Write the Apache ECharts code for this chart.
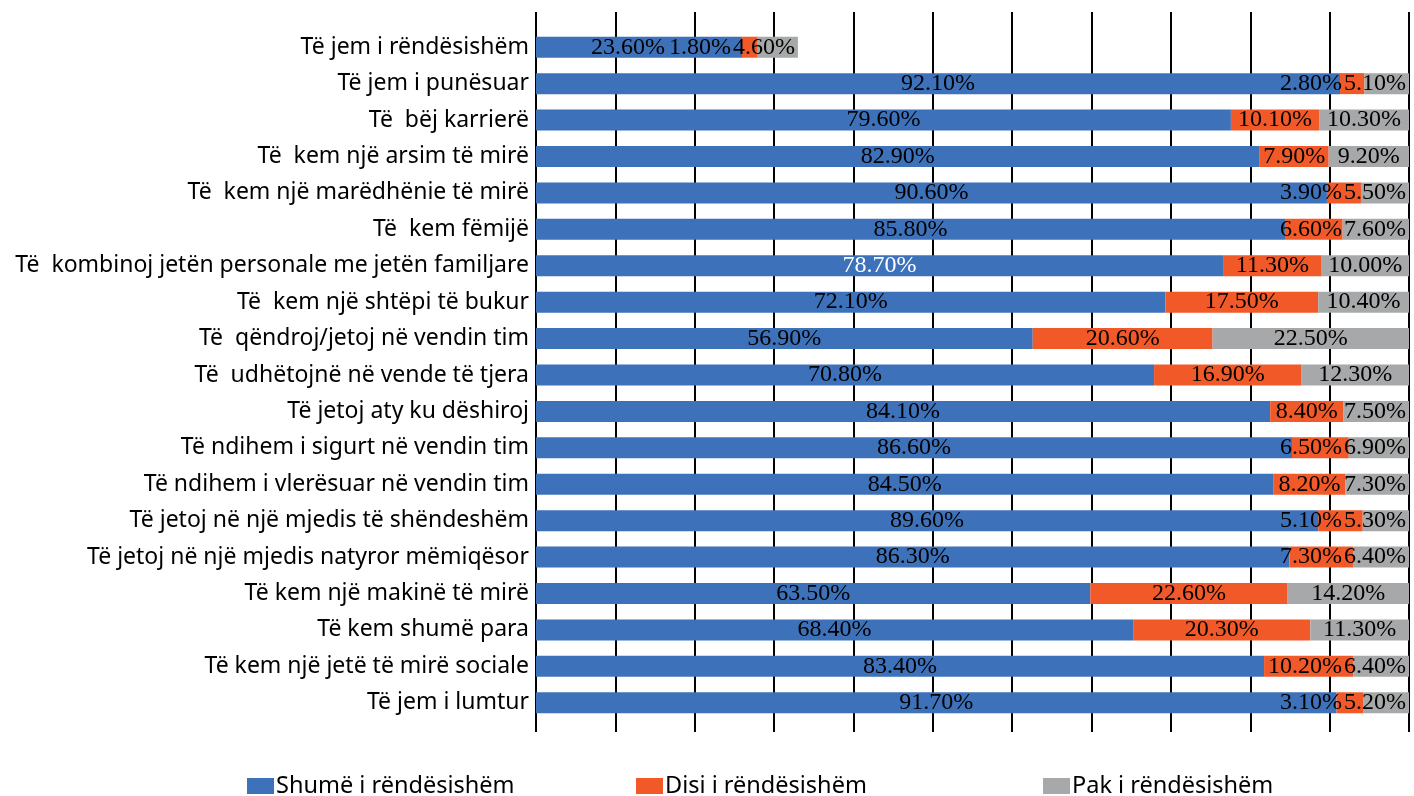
<!DOCTYPE html>
<html>
<head>
<meta charset="utf-8">
<script src="https://cdn.jsdelivr.net/npm/echarts@6/dist/echarts.min.js"></script>
<style>
  html, body { margin: 0; padding: 0; background: #ffffff; }
  #chart { width: 1414px; height: 796px; }
</style>
</head>
<body>
<div id="chart"></div>
<script>
// Survey items, listed top to bottom
const categories = [
  'Të jem i rëndësishëm',
  'Të jem i punësuar',
  'Të  bëj karrierë',
  'Të  kem një arsim të mirë',
  'Të  kem një marëdhënie të mirë',
  'Të  kem fëmijë',
  'Të  kombinoj jetën personale me jetën familjare',
  'Të  kem një shtëpi të bukur',
  'Të  qëndroj/jetoj në vendin tim',
  'Të  udhëtojnë në vende të tjera',
  'Të jetoj aty ku dëshiroj',
  'Të ndihem i sigurt në vendin tim',
  'Të ndihem i vlerësuar në vendin tim',
  'Të jetoj në një mjedis të shëndeshëm',
  'Të jetoj në një mjedis natyror mëmiqësor',
  'Të kem një makinë të mirë',
  'Të kem shumë para',
  'Të kem një jetë të mirë sociale',
  'Të jem i lumtur'
];

// Shares in percent
const shumeValues = [23.6, 92.1, 79.6, 82.9, 90.6, 85.8, 78.7, 72.1, 56.9, 70.8, 84.1, 86.6, 84.5, 89.6, 86.3, 63.5, 68.4, 83.4, 91.7];
const disiValues  = [1.8, 2.8, 10.1, 7.9, 3.9, 6.6, 11.3, 17.5, 20.6, 16.9, 8.4, 6.5, 8.2, 5.1, 7.3, 22.6, 20.3, 10.2, 3.1];
const pakValues   = [4.6, 5.1, 10.3, 9.2, 5.5, 7.6, 10.0, 10.4, 22.5, 12.3, 7.5, 6.9, 7.3, 5.3, 6.4, 14.2, 11.3, 6.4, 5.2];

const seriesNames = ['Shumë i rëndësishëm', 'Disi i rëndësishëm', 'Pak i rëndësishëm'];
const colors = ['#3D72BB', '#F15A28', '#A6A8A9'];
const seriesValues = [shumeValues, disiValues, pakValues];

const AXIS_MAX = 100;
const STEP = AXIS_MAX / 11;

const LABEL_FONT = '"Liberation Serif", "DejaVu Serif", serif';
const LABEL_SIZE = 24;
const fmt = v => v.toFixed(2) + '%';

// text width helper, used to keep neighbouring value labels apart
const measureCtx = document.createElement('canvas').getContext('2d');
function textWidth(str) {
  measureCtx.font = LABEL_SIZE + 'px ' + LABEL_FONT;
  return measureCtx.measureText(str).width;
}

const valueLabel = {
  show: true,
  position: 'inside',
  color: '#000000',
  fontFamily: LABEL_FONT,
  fontSize: LABEL_SIZE,
  formatter: p => fmt(p.value)
};

// Work out where the three value labels of one row go, starting from the
// rect of any of its segments (the scale comes from that rect).
function rowLabelPlan(seriesIndex, i, r) {
  const unit = r.width / seriesValues[seriesIndex][i];
  let before = 0;
  for (let k = 0; k < seriesIndex; k++) before += seriesValues[k][i];
  const x0 = r.x - before * unit;
  const blueEnd = x0 + shumeValues[i] * unit;
  const orangeEnd = blueEnd + disiValues[i] * unit;
  const greyEnd = orangeEnd + pakValues[i] * unit;

  const glw = textWidth(fmt(pakValues[i]));
  const greyFits = glw + 6 <= greyEnd - orangeEnd;
  const greyLeft = greyFits ? (orangeEnd + greyEnd) / 2 - glw / 2 : greyEnd - 3 - glw;

  const olw = textWidth(fmt(disiValues[i]));
  const orangeRight = Math.min((blueEnd + orangeEnd) / 2 + olw / 2, greyLeft - 2);
  const orangeLeft = orangeRight - olw;

  const blw = textWidth(fmt(shumeValues[i]));
  const blueRight = Math.min((x0 + blueEnd) / 2 + blw / 2, orangeLeft - 4);

  return { blueRight, orangeRight, greyRight: greyLeft + glw };
}

function placeRight(p, right) {
  const r = p.rect;
  return { x: right, y: r.y + r.height / 2, align: 'right', verticalAlign: 'middle' };
}

function shumeLayout(p) {
  const plan = rowLabelPlan(0, p.dataIndex, p.rect);
  const r = p.rect, w = p.labelRect.width;
  if (r.x + r.width / 2 + w / 2 <= plan.blueRight + 0.5) return {};
  return placeRight(p, plan.blueRight);
}

function disiLayout(p) {
  const plan = rowLabelPlan(1, p.dataIndex, p.rect);
  const r = p.rect, w = p.labelRect.width;
  if (r.x + r.width / 2 + w / 2 <= plan.orangeRight + 0.5) return {};
  return placeRight(p, plan.orangeRight);
}

function pakLayout(p) {
  const plan = rowLabelPlan(2, p.dataIndex, p.rect);
  const r = p.rect, w = p.labelRect.width;
  if (r.x + r.width / 2 + w / 2 <= plan.greyRight + 0.5) return {};
  return placeRight(p, plan.greyRight);
}

function makeSeries(name, values, color, opts) {
  return {
    name: name,
    type: 'bar',
    stack: 'total',
    xAxisIndex: 0,
    yAxisIndex: 0,
    barWidth: 21,
    itemStyle: { color: color },
    label: valueLabel,
    labelLayout: opts.layout,
    data: values.map((v, i) => {
      const d = { value: v };
      if (opts.white && opts.white.indexOf(i) >= 0) {
        d.label = { color: '#ffffff' };
      }
      return d;
    })
  };
}

const legendBase = {
  orient: 'horizontal',
  top: 774,
  padding: 0,
  icon: 'rect',
  itemWidth: 27,
  itemHeight: 16,
  itemGap: 0,
  textStyle: {
    fontFamily: '"Noto Sans", sans-serif',
    fontSize: 23.5,
    color: '#000000',
    padding: [0, 0, 0, -3]
  }
};

const option = {
  animation: false,
  backgroundColor: '#ffffff',
  grid: [
    { left: 536, right: 5, top: 29, height: 692, containLabel: false },
    { left: 536, right: 5, top: 12, bottom: 64, containLabel: false }
  ],
  legend: [
    Object.assign({}, legendBase, { left: 247, data: [seriesNames[0]] }),
    Object.assign({}, legendBase, { left: 636, data: [seriesNames[1]] }),
    Object.assign({}, legendBase, { left: 1043, data: [seriesNames[2]] })
  ],
  xAxis: [
    {
      type: 'value', gridIndex: 0, min: 0, max: AXIS_MAX, interval: STEP,
      show: false
    },
    {
      type: 'value', gridIndex: 1, min: 0, max: AXIS_MAX, interval: STEP,
      axisLine: { show: false },
      axisTick: { show: false },
      axisLabel: { show: false },
      splitLine: { show: true, lineStyle: { color: '#000000', width: 2 } }
    }
  ],
  yAxis: [
    {
      type: 'category', gridIndex: 0, inverse: true, data: categories,
      axisLine: { show: false },
      axisTick: { show: false },
      axisLabel: {
        margin: 7,
        color: '#000000',
        fontFamily: '"Noto Sans", sans-serif',
        fontSize: 23
      }
    },
    {
      type: 'value', gridIndex: 1, show: false
    }
  ],
  series: [
    makeSeries(seriesNames[0], shumeValues, colors[0], { white: [6], layout: shumeLayout }),
    makeSeries(seriesNames[1], disiValues, colors[1], { layout: disiLayout }),
    makeSeries(seriesNames[2], pakValues, colors[2], { layout: pakLayout })
  ]
};

const chart = echarts.init(document.getElementById('chart'), null, { renderer: 'canvas' });
chart.setOption(option);
</script>
</body>
</html>
